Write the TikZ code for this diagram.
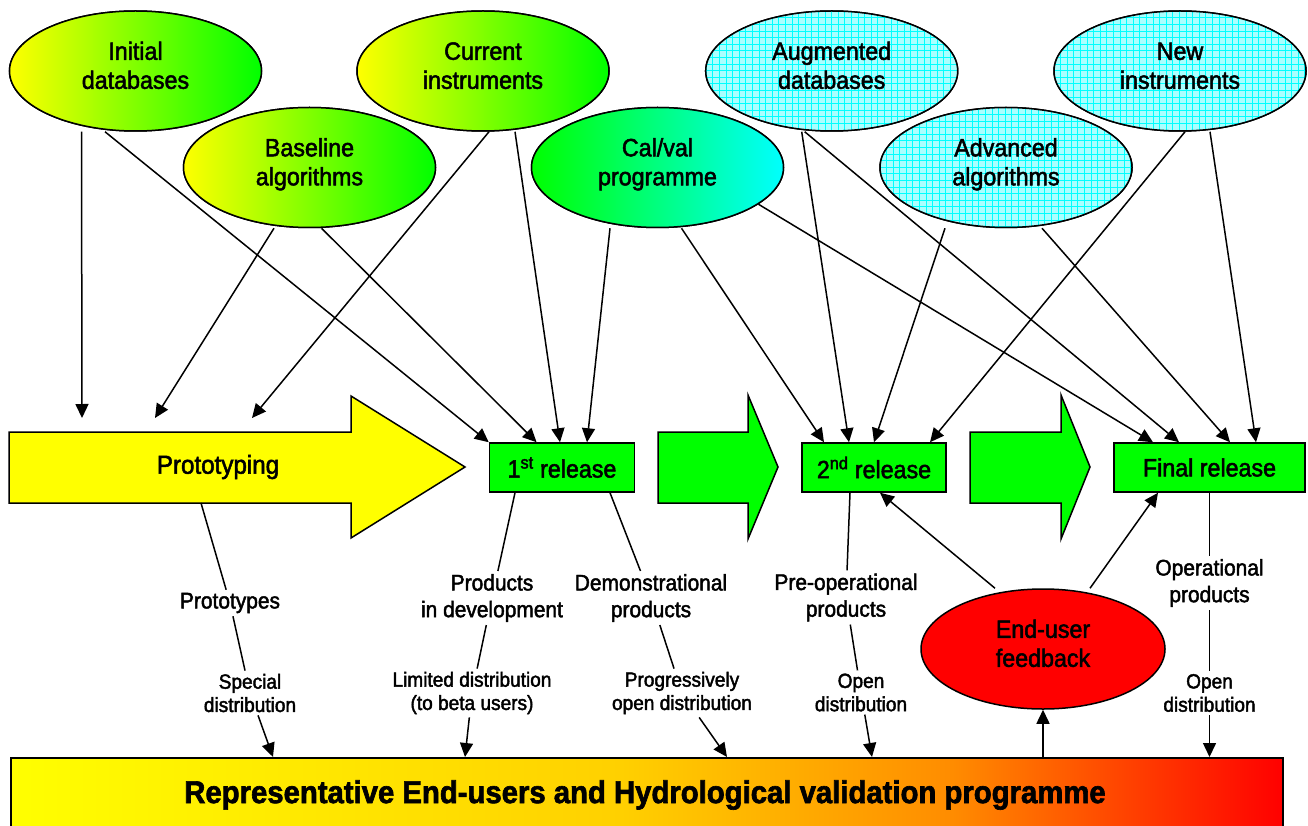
\documentclass[tikz,border=0pt]{standalone}
\usepackage{fontspec}
\setmainfont{Liberation Sans}[FakeStretch=0.93, FakeBold=2]
\usetikzlibrary{shapes.geometric,arrows.meta}

\definecolor{sunyellow}{RGB}{255,255,0}
\definecolor{leafgreen}{RGB}{0,255,0}
\definecolor{aqua}{RGB}{0,255,255}
\definecolor{gridbg}{RGB}{170,255,255}
\definecolor{gridln}{RGB}{0,255,255}
\definecolor{alarm}{RGB}{255,0,0}
\definecolor{goldtone}{RGB}{255,208,0}
\definecolor{ambertone}{RGB}{255,140,0}

% yellow -> gold -> amber -> red along the validation bar
\pgfdeclarehorizontalshading{barshade}{100bp}{color(0bp)=(sunyellow); color(25bp)=(sunyellow); color(49bp)=(goldtone); color(62bp)=(ambertone); color(75bp)=(alarm); color(100bp)=(alarm)}

\newcommand\ellfont{\fontsize{25pt}{29pt}\selectfont}
\newcommand\protofont{\fontsize{26pt}{30pt}\selectfont}
\newcommand\labfont{\fontsize{22.5pt}{26.7pt}\selectfont}
\newcommand\sublabfont{\fontsize{20.5pt}{23.3pt}\selectfont}
\newcommand\barfont{\fontsize{31.5pt}{36pt}\selectfont\bfseries}
% two centred lines, lifted a little above the centre of the shape
\newcommand\ellipsetext[2]{\raisebox{2.5pt}[\height][\depth]{\begin{tabular}{@{}c@{}}#1\\#2\end{tabular}}}

\begin{document}
\begin{tikzpicture}[x=1pt,y=-1pt,
  src/.style={ellipse, draw, line width=1.5pt, minimum width=252pt, minimum height=120pt,
    inner sep=0pt, font=\ellfont},
  warm/.style={src, left color=sunyellow, right color=leafgreen},
  cool/.style={src, left color=leafgreen, right color=aqua},
  hatched/.style={src, fill=gridbg, path picture={
      \draw[gridln, line width=0.8pt, step=6.6pt]
        (path picture bounding box.south west) grid (path picture bounding box.north east);}},
  rel/.style={draw, line width=1.5pt, fill=leafgreen, minimum height=49pt, inner sep=0pt, font=\ellfont},
  bigarrow/.style={draw, line width=1.5pt, line join=miter},
  lab/.style={align=center, font=\labfont, inner sep=3pt},
  sublab/.style={align=center, font=\sublabfont, inner sep=3pt},
  link/.style={line width=1.5pt},
  feed/.style={link, -{Triangle[length=14pt,width=13pt]}}
]
\clip (0,0) rectangle (1308,826);
\fill[white] (0,0) rectangle (1308,826);

% validation programme bar
\node[draw, line width=1.5pt, shade, shading=barshade, minimum width=1272pt, minimum height=120pt,
  anchor=north west, inner sep=0pt] (bar) at (10,757) {};
\node[font=\barfont] (bartext) at (645,795) {Representative End-users and Hydrological validation programme};

% stage arrows
\draw[bigarrow, fill=sunyellow] (9,432) -- (351,432) -- (351,396) -- (465,467) -- (351,538) -- (351,503) -- (9,503) -- cycle;
\draw[bigarrow, fill=leafgreen] (658,432) -- (748,432) -- (748,395) -- (778,467) -- (748,539) -- (748,503) -- (658,503) -- cycle;
\draw[bigarrow, fill=leafgreen] (970,432) -- (1061,432) -- (1061,395) -- (1090,467) -- (1061,539) -- (1061,503) -- (970,503) -- cycle;
\node[font=\protofont] (proto) at (218,467) {Prototyping};

% releases
\node[rel, minimum width=145pt] (r1) at (562,467.5) {1\textsuperscript{st} release};
\node[rel, minimum width=144pt] (r2) at (874,467.5) {2\textsuperscript{nd} release};
\node[rel, minimum width=191pt] (rf) at (1209.5,467.5) {Final release};

% input sources (placed first so the links can start from them)
\node[warm] (ini) at (135.5,71) {\ellipsetext{Initial}{databases}};
\node[warm] (cur) at (483,71) {\ellipsetext{Current}{instruments}};
\node[hatched] (aug) at (831.7,71) {\ellipsetext{Augmented}{databases}};
\node[hatched] (new) at (1180,71) {\ellipsetext{New}{instruments}};
\node[warm] (bas) at (309.5,167.5) {\ellipsetext{Baseline}{algorithms}};
\node[cool] (cal) at (657.5,167.5) {\ellipsetext{Cal/val}{programme}};
\node[hatched] (adv) at (1006,167.5) {\ellipsetext{Advanced}{algorithms}};

% free ends above the prototyping arrow
\coordinate (p1) at (82,418);
\coordinate (p2) at (155,418);
\coordinate (p3) at (252,418);

% links from sources to stages
\draw[feed] ([xshift=-54pt]ini.south) -- (p1);
\draw[feed] ([xshift=-30.5pt]ini.south) -- (r1.north west);
\draw[feed] ([xshift=-35.5pt]bas.south) -- (p2);
\draw[feed] ([xshift=12pt]bas.south) -- ([xshift=-25.4pt]r1.north);
\draw[feed] ([xshift=6pt]cur.south) -- (p3);
\draw[feed] ([xshift=32pt]cur.south) -- ([xshift=-2pt]r1.north);
\draw[feed] ([xshift=-47.5pt]cal.south) -- ([xshift=25pt]r1.north);
\draw[feed] ([xshift=24pt]cal.south) -- ([xshift=-50pt]r2.north);
\draw[feed] (cal.-20) -- ([xshift=-56.5pt]rf.north);
\draw[feed] ([xshift=-30pt]aug.south) -- ([xshift=-25pt]r2.north);
\draw[feed] ([xshift=-27pt]aug.south) -- ([xshift=-30.5pt]rf.north);
\draw[feed] ([xshift=-61pt]adv.south) -- (r2.north);
\draw[feed] ([xshift=36pt]adv.south) -- ([xshift=20.5pt]rf.north);
\draw[feed] ([xshift=5pt]new.south) -- ([xshift=56pt]r2.north);
\draw[feed] ([xshift=30pt]new.south) -- ([xshift=46.5pt]rf.north);

% source ellipses again, on top of the links
\node[warm] at (ini) {\ellipsetext{Initial}{databases}};
\node[warm] at (cur) {\ellipsetext{Current}{instruments}};
\node[hatched] at (aug) {\ellipsetext{Augmented}{databases}};
\node[hatched] at (new) {\ellipsetext{New}{instruments}};
\node[warm] at (bas) {\ellipsetext{Baseline}{algorithms}};
\node[cool] at (cal) {\ellipsetext{Cal/val}{programme}};
\node[hatched] at (adv) {\ellipsetext{Advanced}{algorithms}};

% end-user feedback
\node[src, fill=alarm, minimum width=244pt] (fb) at (1043,649) {\ellipsetext{End-user}{feedback}};
\draw[feed] (fb.south |- bar.north) -- (fb.south);
\draw[feed] ([xshift=-48pt]fb.north) -- ([xshift=6pt]r2.south);
\draw[feed] ([xshift=47pt]fb.north) -- ([xshift=-51.5pt]rf.south);

% product streams down to the bar
\coordinate (protoB) at (201,503);
\coordinate (e1) at (273,757);
\coordinate (e2) at (465,757);
\coordinate (e3) at (727,757);
\coordinate (e4) at (872,757);
\coordinate (e5) at (1209.5,757);

\node[lab] (l1) at (230,603) {Prototypes};
\node[sublab] (d1) at (250,693) {Special\\distribution};
\node[lab] (l2) at (492,598) {Products\\in development};
\node[sublab] (d2) at (472,693) {Limited distribution\\(to beta users)};
\node[lab] (l3) at (651,598) {Demonstrational\\products};
\node[sublab] (d3) at (682,693) {Progressively\\open distribution};
\node[lab] (l4) at (846,597.5) {Pre-operational\\products};
\node[sublab] (d4) at (861,692.5) {Open\\distribution};
\node[lab] (l5) at (1209.5,583) {Operational\\products};
\node[sublab] (d5) at (1209.5,693) {Open\\distribution};

\draw[link] (protoB) -- (l1);
\draw[link] (l1) -- (d1);
\draw[feed] (d1) -- (e1);
\draw[link] ([xshift=-47pt]r1.south) -- (l2);
\draw[link] (l2) -- (d2);
\draw[feed] (d2) -- (e2);
\draw[link] ([xshift=48pt]r1.south) -- (l3);
\draw[link] (l3) -- (d3);
\draw[feed] (d3) -- (e3);
\draw[link] ([xshift=-24pt]r2.south) -- (l4);
\draw[link] (l4) -- (d4);
\draw[feed] (d4) -- (e4);
\draw[link] (rf.south) -- (l5);
\draw[link] (l5) -- (d5);
\draw[feed] (d5) -- (e5);
\end{tikzpicture}
\end{document}
